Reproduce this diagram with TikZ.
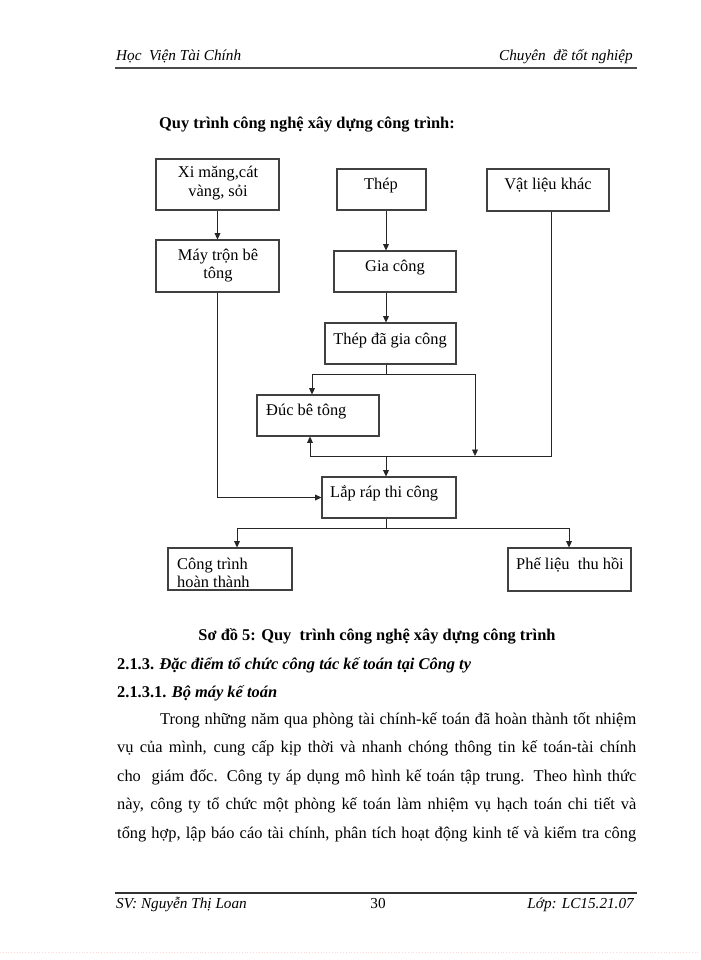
\documentclass[tikz,border=0pt]{standalone}
\usepackage{fontspec}
\setmainfont{Liberation Serif}
\usetikzlibrary{arrows.meta,positioning}

\newlength\pix
\setlength\pix{0.03cm}
\newcommand\grund{\fontsize{14}{17}\selectfont}
\newcommand\klein{\fontsize{13}{16}\selectfont}

\def\kasten#1#2#3#4#5{
	\node[box,minimum width={(#4-#2)*\pix},minimum height={(#5-#3)*\pix}] (#1) at ({(#2+#4)/2},{(#3+#5)/2}) {};
}

\tikzset{
	box/.style={draw=black!75,line width=0.9pt,inner sep=0pt},
	lbl/.style={inner sep=0pt,font=\grund},
	flow/.style={draw=black!85,line width=0.7pt},
	tip/.style={flow,-{Triangle[length=5.5pt,width=5pt]}},
}

\begin{document}
\begin{tikzpicture}[x=\pix,y=-\pix]
\useasboundingbox (0,0) rectangle (700,960);
% page head
\node[anchor=base west,inner sep=0pt,font=\klein\itshape] (kopfl) at (116,61) {Học\ \ Viện Tài Chính};
\node[anchor=base east,inner sep=0pt,font=\klein\itshape] (kopfr) at (633,61) {Chuyên\ \ đề tốt nghiệp};
\draw[black!70,line width=1.3pt] (115,68) -- (637,68);
\node[anchor=base west,inner sep=0pt,font=\grund\bfseries] (titel) at (159,129) {Quy trình công nghệ xây dựng công trình:};
% boxes
\kasten{xm}{156}{159}{279}{210}
\kasten{mtr}{156}{240}{279}{292}
\kasten{thep}{337}{169}{426}{210}
\kasten{vlk}{487}{169}{609}{211}
\kasten{gc}{334}{251}{456}{292}
\kasten{tdgc}{325}{323}{456}{364}
\kasten{duc}{257}{395}{379}{436}
\kasten{lap}{322}{477}{456}{518}
\kasten{ct}{168}{548}{292}{590}
\kasten{pl}{508}{548}{631}{591}
% box texts
\node[lbl,align=center,font=\fontsize{14}{16.2}\selectfont] (t-xm) at (218,183) {Xi măng,cát\\vàng, sỏi};
\node[lbl,align=center,font=\fontsize{14}{15.4}\selectfont] (t-mtr) at (218,266) {Máy trộn bê\\tông};
\node[lbl,anchor=base] (t-thep) at (381,190) {Thép};
\node[lbl,anchor=base] (t-vlk) at (548,190) {Vật liệu khác};
\node[lbl,anchor=base] (t-gc) at (395,271) {Gia công};
\node[lbl,anchor=base] (t-tdgc) at (390,344) {Thép đã gia công};
\node[lbl,anchor=base west] (t-duc) at (266,415) {Đúc bê tông};
\node[lbl,anchor=base west] (t-lap) at (330,497) {Lắp ráp thi\ công};
\node[lbl,anchor=west,align=left,font=\fontsize{14}{15.8}\selectfont] (t-ct) at (177,573) {Công trình\\hoàn thành};
\node[lbl,anchor=base west] (t-pl) at (516,569) {Phế liệu\ \ thu hồi};
% connectors
\coordinate (sp) at (386,0);
\coordinate (br) at (386,374);
\coordinate (dl) at (312,374);
\coordinate (dr) at (475,374);
\coordinate (jl) at (310,456);
\coordinate (jr) at (475,456);
\coordinate (jv) at (551,456);
\coordinate (sj) at (386,528);
\coordinate (cl) at (237,528);
\coordinate (cr) at (569,528);
\draw[tip] (xm) -- (mtr);
\draw[tip] (thep.south -| sp) -- (gc.north -| sp);
\draw[tip] (gc.south -| sp) -- (tdgc.north -| sp);
\draw[flow] (tdgc.south -| sp) -- (br);
\draw[tip] (br) -- (dl) -- (dl |- duc.north);
\draw[tip] (br) -- (dr) -- (jr);
\draw[flow] (vlk.south -| jv) -- (jv) -- (jl);
\draw[tip] (jl) -- (jl |- duc.south);
\draw[tip] (jl -| sp) -- (lap.north -| sp);
\draw[tip] (mtr.south) |- (lap.west);
\draw[flow] (lap.south -| sp) -- (sj);
\draw[tip] (sj) -- (cl) -- (cl |- ct.north);
\draw[tip] (sj) -- (cr) -- (cr |- pl.north);
% text below
\node[anchor=base,inner sep=0pt,font=\grund\bfseries] (caption) at (377,640) {Sơ đồ 5: Quy\ \ trình công nghệ xây dựng công trình};
\node[anchor=base west,inner sep=0pt,font=\grund\bfseries] (h1) at (117,669) {2.1.3. \textit{Đặc điểm tổ chức công tác kế toán tại Công ty}};
\node[anchor=base west,inner sep=0pt,font=\grund\bfseries] (h2) at (117,697) {2.1.3.1. \textit{Bộ máy kế toán}};
\node[anchor=north west,inner sep=0pt,font=\grund] (absatz) at (117,712) {\parbox{519\pix}{\baselineskip=28.5\pix\relax
\hbox to\linewidth{\hspace*{43\pix}Trong những năm qua phòng tài chính-kế toán đã hoàn thành tốt nhiệm}
\hbox to\linewidth{vụ của mình, cung cấp kịp thời và nhanh chóng thông tin kế toán-tài chính}
\hbox to\linewidth{cho\ \ giám đốc. Công ty áp dụng mô hình kế toán tập trung. Theo hình thức}
\hbox to\linewidth{này, công ty tổ chức một phòng kế toán làm nhiệm vụ hạch toán chi tiết và}
\hbox to\linewidth{tổng hợp, lập báo cáo tài chính, phân tích hoạt động kinh tế và kiểm tra công}}};
% page foot
\draw[black!80,line width=1.3pt] (115,893) -- (637,893);
\node[anchor=base west,inner sep=0pt,font=\klein\itshape] (fussl) at (116,908) {SV: Nguyễn Thị Loan};
\node[anchor=base,inner sep=0pt,font=\klein] (seite) at (378,908) {30};
\node[anchor=base east,inner sep=0pt,font=\klein\itshape] (fussr) at (634,908) {Lớp: LC15.21.07};
\draw[pink!60,dotted] (0,952) -- (700,952);
\end{tikzpicture}
\end{document}
